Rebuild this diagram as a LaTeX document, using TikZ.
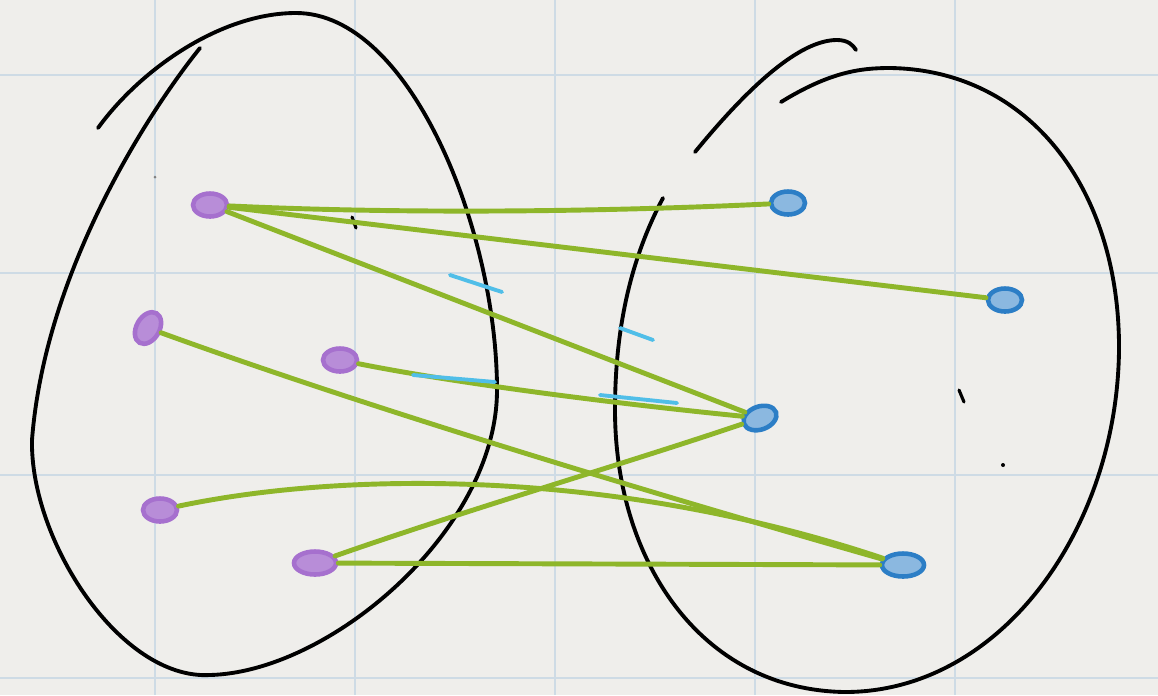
\documentclass[tikz,border=0pt]{standalone}
\usetikzlibrary{shapes.geometric}
\definecolor{paper}{RGB}{239,238,235}
\definecolor{gridc}{RGB}{206,219,229}
\definecolor{inkp}{RGB}{166,112,206}
\definecolor{inkb}{RGB}{44,126,198}
\definecolor{inkg}{RGB}{142,182,42}
\definecolor{inkt}{RGB}{80,190,232}
\begin{document}
\begin{tikzpicture}[x=1cm,y=-1cm,
  pv/.style={ellipse,draw=inkp,line width=1.3pt,fill=inkp!80!white,minimum width=3.4mm,minimum height=2.3mm,inner sep=0pt},
  bv/.style={pv,draw=inkb,fill=inkb!55!white},
  e/.style={draw=inkg,line width=1.4pt,line cap=round},
  rim/.style={draw=black,line width=1.1pt,line cap=round},
  tick/.style={draw=inkt,line width=1.1pt,line cap=round},
  gl/.style={draw=gridc,line width=0.5pt}]
  % paper and grid
  \fill[paper] (0,0) rectangle (11.58,6.95);
  \useasboundingbox (0,0) rectangle (11.58,6.95);
  \foreach \x in {1.55,3.55,5.55,7.55,9.55} \draw[gl] (\x,0) -- (\x,6.95);
  \foreach \y in {0.75,2.73,4.75,6.78} \draw[gl] (0,\y) -- (11.58,\y);
  % the two sets
  \draw[rim] (2.00,0.48) .. controls (1.5,1.1) and (0.45,2.7) .. (0.32,4.4)
    .. controls (0.30,5.4) and (1.2,6.8) .. (2.1,6.75)
    .. controls (3.3,6.72) and (4.97,5.3) .. (4.97,3.9)
    .. controls (4.97,2.3) and (4.1,0.13) .. (2.96,0.13)
    .. controls (2.2,0.13) and (1.4,0.7) .. (0.98,1.28);
  \draw[rim] (7.81,1.02) .. controls (8.3,0.72) and (8.6,0.68) .. (8.9,0.68)
    .. controls (10.3,0.70) and (11.2,1.9) .. (11.19,3.5)
    .. controls (11.17,5.3) and (10.0,6.92) .. (8.45,6.92)
    .. controls (7.0,6.9) and (6.15,5.6) .. (6.15,4.1)
    .. controls (6.15,3.3) and (6.3,2.6) .. (6.63,1.98);
  \draw[rim] (6.95,1.52) .. controls (7.5,0.85) and (8.0,0.40) .. (8.37,0.40)
    .. controls (8.48,0.40) and (8.53,0.45) .. (8.56,0.50);
  % stray pen marks
  \draw[rim,line width=0.9pt] (3.52,2.17) -- (3.56,2.28);
  \draw[rim,line width=0.9pt] (9.59,3.90) -- (9.64,4.02);
  \fill (10.03,4.65) circle (0.02);
  \fill[black!50] (1.55,1.77) circle (0.015);
  % elements
  \node[pv] (p1) at (2.10,2.05) {};
  \node[pv,rotate=60] (p2) at (1.48,3.28) {};
  \node[pv] (p3) at (3.40,3.60) {};
  \node[pv] (p4) at (1.60,5.10) {};
  \node[pv,minimum width=4.2mm] (p5) at (3.15,5.63) {};
  \node[bv] (b1) at (7.88,2.03) {};
  \node[bv] (b2) at (10.05,3.00) {};
  \node[bv,rotate=20] (b3) at (7.60,4.18) {};
  \node[bv,minimum width=4.2mm] (b4) at (9.03,5.65) {};
  % mapping
  \draw[e] (p1) .. controls (4.0,2.14) and (6.0,2.12) .. (b1);
  \draw[e] (p1) -- (b2);
  \draw[e] (p1) -- (b3);
  \draw[e] (p2) .. controls (3.6,4.05) and (6.4,4.90) .. (b4);
  \draw[e] (p3) .. controls (4.5,3.82) and (6.0,4.02) .. (b3);
  \draw[e] (p4) .. controls (3.5,4.70) and (6.2,4.70) .. (b4);
  \draw[e] (p5) .. controls (4.6,5.12) and (6.3,4.62) .. (b3);
  \draw[e] (p5) -- (b4);
  % tick marks
  \draw[tick] (4.50,2.75) -- (5.02,2.92);
  \draw[tick] (6.20,3.28) -- (6.53,3.40);
  \draw[tick] (4.13,3.75) -- (4.95,3.82);
  \draw[tick] (6.00,3.95) -- (6.77,4.03);
\end{tikzpicture}
\end{document}
